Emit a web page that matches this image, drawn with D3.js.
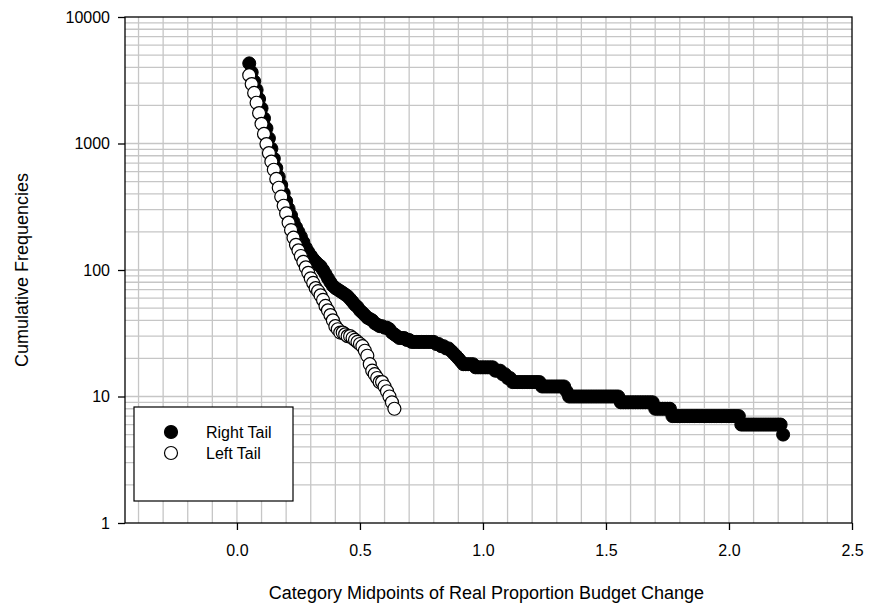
<!DOCTYPE html>
<html>
<head>
<meta charset="utf-8">
<script src="https://cdn.jsdelivr.net/npm/d3@7"></script>
<style>
  html, body { margin: 0; padding: 0; background: #ffffff; }
  svg { display: block; font-family: "Liberation Sans", Arial, sans-serif; }
</style>
</head>
<body>
<svg id="chart" width="870" height="610"></svg>
<script>
// Category midpoints of real proportion budget change
const midpoints = [
  0.05,0.06,0.07,0.08,0.09,0.10,0.11,0.12,0.13,0.14,
  0.15,0.16,0.17,0.18,0.19,0.20,0.21,0.22,0.23,0.24,
  0.25,0.26,0.27,0.28,0.29,0.30,0.31,0.32,0.33,0.34,
  0.35,0.36,0.37,0.38,0.39,0.40,0.41,0.42,0.43,0.44,
  0.45,0.46,0.47,0.48,0.49,0.50,0.51,0.52,0.53,0.54,
  0.55,0.56,0.57,0.58,0.59,0.60,0.61,0.62,0.63,0.64,
  0.65,0.66,0.67,0.68,0.69,0.70,0.71,0.72,0.73,0.74,
  0.75,0.76,0.77,0.78,0.79,0.80,0.81,0.82,0.83,0.84,
  0.85,0.86,0.87,0.88,0.89,0.90,0.91,0.92,0.93,0.94,
  0.95,0.96,0.97,0.98,0.99,1.00,1.01,1.02,1.03,1.04,
  1.05,1.06,1.07,1.08,1.09,1.10,1.11,1.12,1.13,1.14,
  1.15,1.16,1.17,1.18,1.19,1.20,1.21,1.22,1.23,1.24,
  1.25,1.26,1.27,1.28,1.29,1.30,1.31,1.32,1.33,1.34,
  1.35,1.36,1.37,1.38,1.39,1.40,1.41,1.42,1.43,1.44,
  1.45,1.46,1.47,1.48,1.49,1.50,1.51,1.52,1.53,1.54,
  1.55,1.56,1.57,1.58,1.59,1.60,1.61,1.62,1.63,1.64,
  1.65,1.66,1.67,1.68,1.69,1.70,1.71,1.72,1.73,1.74,
  1.75,1.76,1.77,1.78,1.79,1.80,1.81,1.82,1.83,1.84,
  1.85,1.86,1.87,1.88,1.89,1.90,1.91,1.92,1.93,1.94,
  1.95,1.96,1.97,1.98,1.99,2.00,2.01,2.02,2.03,2.04,
  2.05,2.06,2.07,2.08,2.09,2.10,2.11,2.12,2.13,2.14,
  2.15,2.16,2.17,2.18,2.19,2.20,2.21,2.22
];

// Cumulative frequencies, right tail (one per midpoint)
const rightTail = [
  4300,3650,3100,2650,2250,1900,1580,1320,1100,910,
  760,640,545,470,405,350,305,270,240,218,
  200,183,166,150,139,130,122,116,111,107,
  100,93,86,80,75,72,70,68,66,64,
  62,59,56,53,51,48,46,44,42,41,
  40,38,37,36,36,35,35,34,32,31,
  30,29,29,29,28,28,27,27,27,27,
  27,27,27,27,27,27,26,26,25,25,
  24,24,23,22,21,20,19,18,18,18,
  18,18,17,17,17,17,17,17,17,17,
  16,16,16,15,15,14,14,13,13,13,
  13,13,13,13,13,13,13,13,13,12,
  12,12,12,12,12,12,12,12,12,11,
  10,10,10,10,10,10,10,10,10,10,
  10,10,10,10,10,10,10,10,10,10,
  10,9,9,9,9,9,9,9,9,9,
  9,9,9,9,9,8,8,8,8,8,
  8,8,7,7,7,7,7,7,7,7,
  7,7,7,7,7,7,7,7,7,7,
  7,7,7,7,7,7,7,7,7,7,
  6,6,6,6,6,6,6,6,6,6,
  6,6,6,6,6,6,6,5
];

// Cumulative frequencies, left tail (first 60 midpoints)
const leftTail = [
  3470,2950,2510,2100,1740,1430,1190,990,840,720,
  620,525,447,380,322,280,237,207,180,158,
  143,129,116,105,95,86,79,72,68,63,
  58,52,48,44,40,36,34,32,32,31,
  30,30,29,28,27,26,25,23,21,18,
  16,15,14,13,13,12,11,10,9,8
];

const xTicks = [0, 0.5, 1.0, 1.5, 2.0, 2.5];
const yTicks = [1, 10, 100, 1000, 10000];
const seriesNames = ["Right Tail", "Left Tail"];

const svg = d3.select("#chart");
const plot = { left: 125, right: 852, top: 17, bottom: 523 };

const x = d3.scaleLinear().domain([-0.455, 2.5]).range([plot.left, plot.right]);
const y = d3.scaleLog().domain([1, 10000]).range([plot.bottom, plot.top]);

// Grid: vertical lines every 0.1, horizontal lines at every log subdivision
const gridColor = "#c6c6c6";
const grid = svg.append("g").attr("class", "grid");
const xGrid = d3.range(-4, 25).map(i => i / 10);
grid.selectAll("line.vx").data(xGrid).enter().append("line")
  .attr("x1", d => x(d)).attr("x2", d => x(d))
  .attr("y1", plot.top).attr("y2", plot.bottom)
  .attr("stroke", gridColor).attr("stroke-width", 1.3);
const yGrid = y.ticks().filter(v => v > 1 && v < 10000);
grid.selectAll("line.hy").data(yGrid).enter().append("line")
  .attr("x1", plot.left).attr("x2", plot.right)
  .attr("y1", d => y(d)).attr("y2", d => y(d))
  .attr("stroke", gridColor).attr("stroke-width", 1.3);

// Frame
svg.append("rect")
  .attr("x", plot.left).attr("y", plot.top)
  .attr("width", plot.right - plot.left).attr("height", plot.bottom - plot.top)
  .attr("fill", "none").attr("stroke", "#000").attr("stroke-width", 1.3);

// Axes
const fontSize = 16;
const xAxis = svg.append("g")
  .attr("transform", `translate(0,${plot.bottom})`)
  .call(d3.axisBottom(x).tickValues(xTicks).tickFormat(d3.format(".1f"))
    .tickSize(7).tickSizeOuter(0).tickPadding(15));
const yAxis = svg.append("g")
  .attr("transform", `translate(${plot.left},0)`)
  .call(d3.axisLeft(y).tickValues(yTicks).tickFormat(d3.format("d"))
    .tickSize(7).tickSizeOuter(0).tickPadding(8));
[xAxis, yAxis].forEach(a => {
  a.select(".domain").remove();
  a.selectAll(".tick line").attr("stroke", "#000").attr("stroke-width", 1.3);
  a.selectAll(".tick text").attr("fill", "#000")
    .style("font-size", fontSize + "px")
    .style("font-family", "'Liberation Sans', Arial, sans-serif");
});

// Axis titles
svg.append("text")
  .attr("x", (plot.left + plot.right) / 2 - 2).attr("y", 599)
  .attr("text-anchor", "middle").style("font-size", "18px")
  .text("Category Midpoints of Real Proportion Budget Change");
svg.append("text")
  .attr("transform", `translate(28,${(plot.top + plot.bottom) / 2}) rotate(-90)`)
  .attr("text-anchor", "middle").style("font-size", "18px")
  .text("Cumulative Frequencies");

// Series points
const r = 6.5;
const rightData = rightTail.map((v, i) => ({ x: midpoints[i], y: v }));
const leftData = leftTail.map((v, i) => ({ x: midpoints[i], y: v }));

svg.append("g").selectAll("circle").data(rightData).enter().append("circle")
  .attr("cx", d => x(d.x)).attr("cy", d => y(d.y)).attr("r", r)
  .attr("fill", "#000").attr("stroke", "#000").attr("stroke-width", 1);

svg.append("g").selectAll("circle").data(leftData).enter().append("circle")
  .attr("cx", d => x(d.x)).attr("cy", d => y(d.y)).attr("r", r)
  .attr("fill", "#fff").attr("stroke", "#000").attr("stroke-width", 1.2);

// Legend
const legend = svg.append("g").attr("class", "legend");
legend.append("rect")
  .attr("x", 134).attr("y", 407).attr("width", 159).attr("height", 94)
  .attr("fill", "#fff").attr("stroke", "#000").attr("stroke-width", 1.2);
const fills = ["#000", "#fff"];
seriesNames.forEach((name, i) => {
  const cy = 432 + i * 21;
  legend.append("circle").attr("cx", 171).attr("cy", cy).attr("r", r)
    .attr("fill", fills[i]).attr("stroke", "#000").attr("stroke-width", 1.2);
  legend.append("text").attr("x", 206).attr("y", cy + 5.5)
    .style("font-size", fontSize + "px").text(name);
});
</script>
</body>
</html>
